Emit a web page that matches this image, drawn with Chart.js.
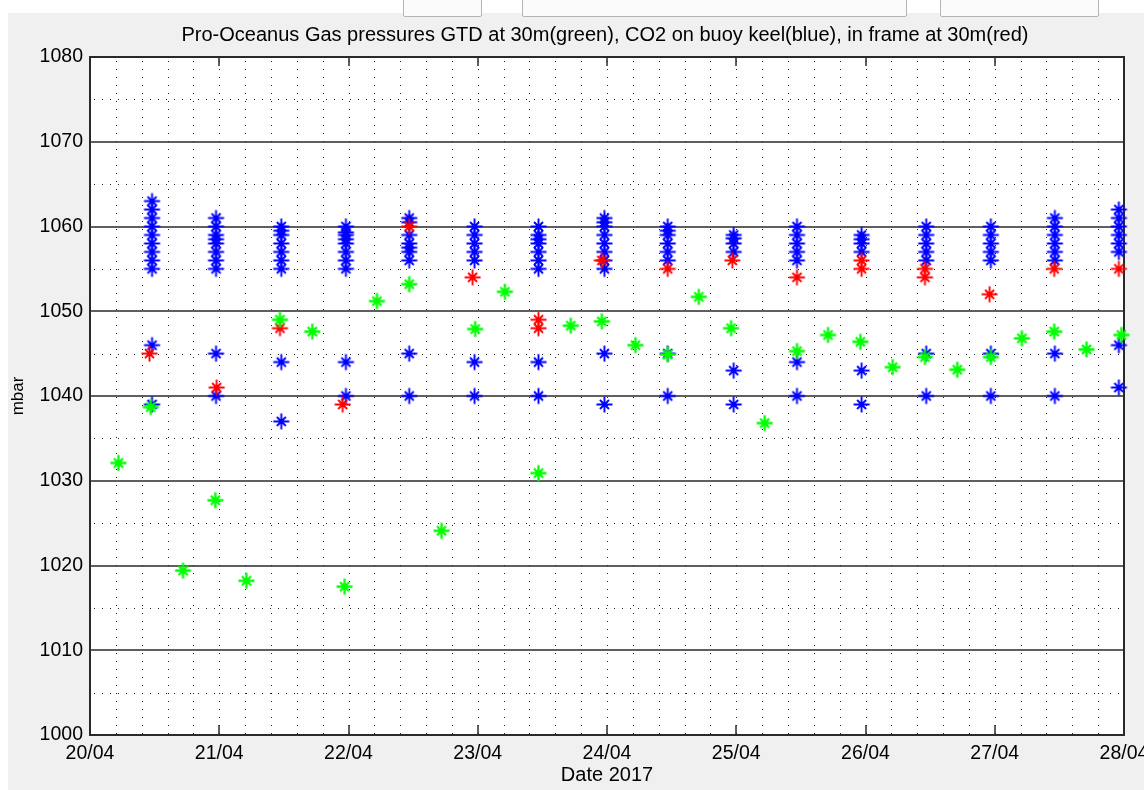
<!DOCTYPE html>
<html>
<head>
<meta charset="utf-8">
<script src="https://cdn.jsdelivr.net/npm/chart.js@4.4.1/dist/chart.umd.min.js"></script>
<style>
    html, body { margin: 0; padding: 0; width: 1144px; height: 790px; overflow: hidden; background: #fff; }
    #panel { position: absolute; left: 8px; top: 13px; width: 1136px; height: 777px; background: #f0f0f0; }
    .ctl { position: absolute; top: -2px; height: 17px; border: 1px solid #b4b4b4; background: #fbfbfb; border-radius: 2px; }
    #wrap { position: absolute; left: 0; top: 0; width: 1170px; height: 790px; }
</style>
</head>
<body>
<div id="panel"></div>
<div class="ctl" style="left:403px;width:77px"></div>
<div class="ctl" style="left:522px;width:383px"></div>
<div class="ctl" style="left:940px;width:157px"></div>
<div id="wrap"><canvas id="chart"></canvas></div>
<script>
// --- tick labels ---
const xTickDays = [20, 21, 22, 23, 24, 25, 26, 27, 28];
const xTickLabels = ['20/04', '21/04', '22/04', '23/04', '24/04', '25/04', '26/04', '27/04', '28/04'];
const yTickValues = [1000, 1010, 1020, 1030, 1040, 1050, 1060, 1070, 1080];

// --- GTD at 30m (green), day of April ---
const greenTimes = [20.22, 20.47, 20.72, 20.97, 21.21, 21.47, 21.72, 21.97, 22.22, 22.47, 22.72, 22.98,
    23.21, 23.47, 23.72, 23.96, 24.22, 24.47, 24.71, 24.96, 25.22, 25.47, 25.71, 25.96,
    26.21, 26.46, 26.71, 26.97, 27.21, 27.46, 27.71, 27.98];
const greenValues = [1032.1, 1038.7, 1019.4, 1027.7, 1018.2, 1049.0, 1047.6, 1017.5, 1051.2, 1053.2, 1024.1, 1047.9,
    1052.3, 1030.9, 1048.3, 1048.8, 1046.0, 1044.9, 1051.7, 1048.0, 1036.8, 1045.3, 1047.2, 1046.4,
    1043.4, 1044.6, 1043.1, 1044.6, 1046.8, 1047.6, 1045.5, 1047.2];

// --- CO2 in frame at 30m (red) ---
const redTimes = [20.46, 20.98, 21.47, 21.955, 22.47, 22.96, 23.47, 23.47, 23.96, 24.47, 24.97, 25.47,
    25.97, 25.97, 26.46, 26.46, 26.96, 27.46, 27.96];
const redValues = [1045, 1041, 1048, 1039, 1060, 1054, 1049, 1048, 1056, 1055, 1056, 1054,
    1056, 1055, 1055, 1054, 1052, 1055, 1055];

// --- CO2 on buoy keel (blue), one burst every 12 h ---
const blueBurstTimes = [20.48, 20.975, 21.48, 21.98, 22.47, 22.975, 23.47, 23.98,
    24.47, 24.98, 25.47, 25.97, 26.47, 26.97, 27.465, 27.96];
const blueBurstValues = [
    [1063, 1062, 1061, 1060, 1059, 1058, 1057, 1056, 1055, 1046, 1039],
    [1061, 1060, 1059, 1058.5, 1058, 1057, 1056, 1055, 1045, 1040],
    [1060, 1059.5, 1059, 1058, 1057, 1056, 1055, 1044, 1037],
    [1060, 1059.3, 1059, 1058.5, 1058, 1057, 1056, 1055, 1044, 1040],
    [1061, 1060.5, 1059, 1058, 1057.5, 1057, 1056, 1045, 1040],
    [1060, 1059, 1058, 1057, 1056, 1044, 1040],
    [1060, 1059, 1058.5, 1058, 1057, 1056, 1055, 1044, 1040],
    [1061, 1060.5, 1060, 1059, 1058, 1057, 1056, 1055, 1045, 1039],
    [1060, 1059.5, 1059, 1058, 1057, 1056, 1045, 1040],
    [1059, 1058.6, 1058, 1057, 1043, 1039],
    [1060, 1059, 1058, 1057, 1056, 1044, 1040],
    [1059, 1058.5, 1058, 1057, 1043, 1039],
    [1060, 1059, 1058, 1057, 1056, 1045, 1040],
    [1060, 1059, 1058, 1057, 1056, 1045, 1040],
    [1061, 1060, 1059, 1058, 1057, 1056, 1045, 1040],
    [1062, 1061, 1060, 1059, 1058, 1057, 1046, 1041]
];

const FONT = "'Liberation Sans', Arial, Helvetica, sans-serif";
const titleText = 'Pro-Oceanus Gas pressures GTD at 30m(green), CO2 on buoy keel(blue), in frame at 30m(red)';

function pairs(times, values) {
    return times.map((t, i) => ({ x: t, y: values[i] }));
}

// matlab '*' marker: long plus arms, shorter diagonals
function asterisk(color, width) {
    const c = document.createElement('canvas');
    c.width = 19; c.height = 19;
    const g = c.getContext('2d');
    g.strokeStyle = color;
    g.lineWidth = width;
    g.beginPath();
    g.moveTo(9.5, 1.5); g.lineTo(9.5, 17.5);
    g.moveTo(1.5, 9.5); g.lineTo(17.5, 9.5);
    g.moveTo(5, 5); g.lineTo(14, 14);
    g.moveTo(14, 5); g.lineTo(5, 14);
    g.stroke();
    return c;
}

function starSet(data, color, width) {
    return {
        data,
        pointStyle: asterisk(color, width),
        pointRadius: 9,
        borderColor: color,
        backgroundColor: color,
        showLine: false,
        clip: false
    };
}

// matlab-ish axes box: white background, dotted minor grid, solid major lines, inner ticks
const plotFrame = {
    id: 'plotFrame',
    beforeDraw(chart) {
        const { ctx, chartArea: a } = chart;
        ctx.save();
        ctx.fillStyle = '#fff';
        ctx.fillRect(a.left, a.top, a.right - a.left, a.bottom - a.top);
        ctx.fillStyle = '#000';
        ctx.font = '20px ' + FONT;
        ctx.textAlign = 'center';
        ctx.textBaseline = 'middle';
        ctx.fillText(titleText, (a.left + a.right) / 2 - 2, 35);
        ctx.restore();
    },
    beforeDatasetsDraw(chart) {
        const { ctx, chartArea: a, scales: { x, y } } = chart;
        const seg = (x1, y1, x2, y2) => { ctx.beginPath(); ctx.moveTo(x1, y1); ctx.lineTo(x2, y2); ctx.stroke(); };
        ctx.save();

        ctx.lineWidth = 1;
        ctx.strokeStyle = '#222';
        ctx.setLineDash([1, 7]);
        for (let k = 1; k < 40; k++) {
            const px = Math.round(x.getPixelForValue(20 + k * 0.2)) + 0.5;
            seg(px, a.top + 4, px, a.bottom);
        }
        for (let v = 1005; v < 1080; v += 10) {
            const py = Math.round(y.getPixelForValue(v)) + 0.5;
            seg(a.left + 4, py, a.right, py);
        }

        ctx.setLineDash([]);
        ctx.lineWidth = 1.6;
        ctx.strokeStyle = '#2a2a2a';
        for (let v = 1010; v < 1080; v += 10) {
            const py = Math.round(y.getPixelForValue(v));
            seg(a.left, py, a.right, py);
        }

        ctx.lineWidth = 1.5;
        xTickDays.forEach(d => {
            const px = Math.round(x.getPixelForValue(d));
            seg(px, a.bottom, px, a.bottom - 10);
            seg(px, a.top, px, a.top + 9);
        });

        ctx.lineWidth = 2;
        ctx.strokeRect(a.left, a.top, a.right - a.left, a.bottom - a.top);
        ctx.restore();
    }
};

const blueData = blueBurstTimes.flatMap((t, i) => blueBurstValues[i].map(v => ({ x: t, y: v })));

new Chart(document.getElementById('chart'), {
    type: 'scatter',
    data: {
        datasets: [
            starSet(pairs(greenTimes, greenValues), '#00ff00', 2.3),
            starSet(pairs(redTimes, redValues), '#ff0000', 1.9),
            starSet(blueData, '#0000ff', 1.9)
        ]
    },
    options: {
        responsive: true,
        maintainAspectRatio: false,
        animation: false,
        events: [],
        layout: { padding: { left: 0, right: 46, top: 57, bottom: 0 } },
        plugins: {
            legend: { display: false },
            tooltip: { enabled: false },
            title: { display: false }
        },
        scales: {
            x: {
                type: 'linear',
                min: 20,
                max: 28,
                grid: { display: false, drawTicks: false },
                border: { display: false },
                afterBuildTicks: s => { s.ticks = xTickDays.map(v => ({ value: v })); },
                afterFit: s => { s.height = 55; },
                ticks: {
                    autoSkip: false,
                    maxRotation: 0,
                    padding: 7,
                    color: '#000',
                    font: { family: FONT, size: 19.5 },
                    callback: (v, i) => xTickLabels[i]
                },
                title: {
                    display: true,
                    text: 'Date 2017',
                    color: '#000',
                    font: { family: FONT, size: 20 },
                    padding: { top: 3, bottom: 3 }
                }
            },
            y: {
                min: 1000,
                max: 1080,
                grid: { display: false, drawTicks: false },
                border: { display: false },
                afterBuildTicks: s => { s.ticks = yTickValues.map(v => ({ value: v })); },
                afterFit: s => { s.width = 90; },
                ticks: {
                    padding: 7,
                    color: '#000',
                    font: { family: FONT, size: 19.5 },
                    callback: v => String(v)
                },
                title: {
                    display: true,
                    text: 'mbar',
                    color: '#000',
                    font: { family: FONT, size: 17 },
                    padding: { top: 8, bottom: 0 }
                }
            }
        }
    },
    plugins: [plotFrame]
});
</script>
</body>
</html>
